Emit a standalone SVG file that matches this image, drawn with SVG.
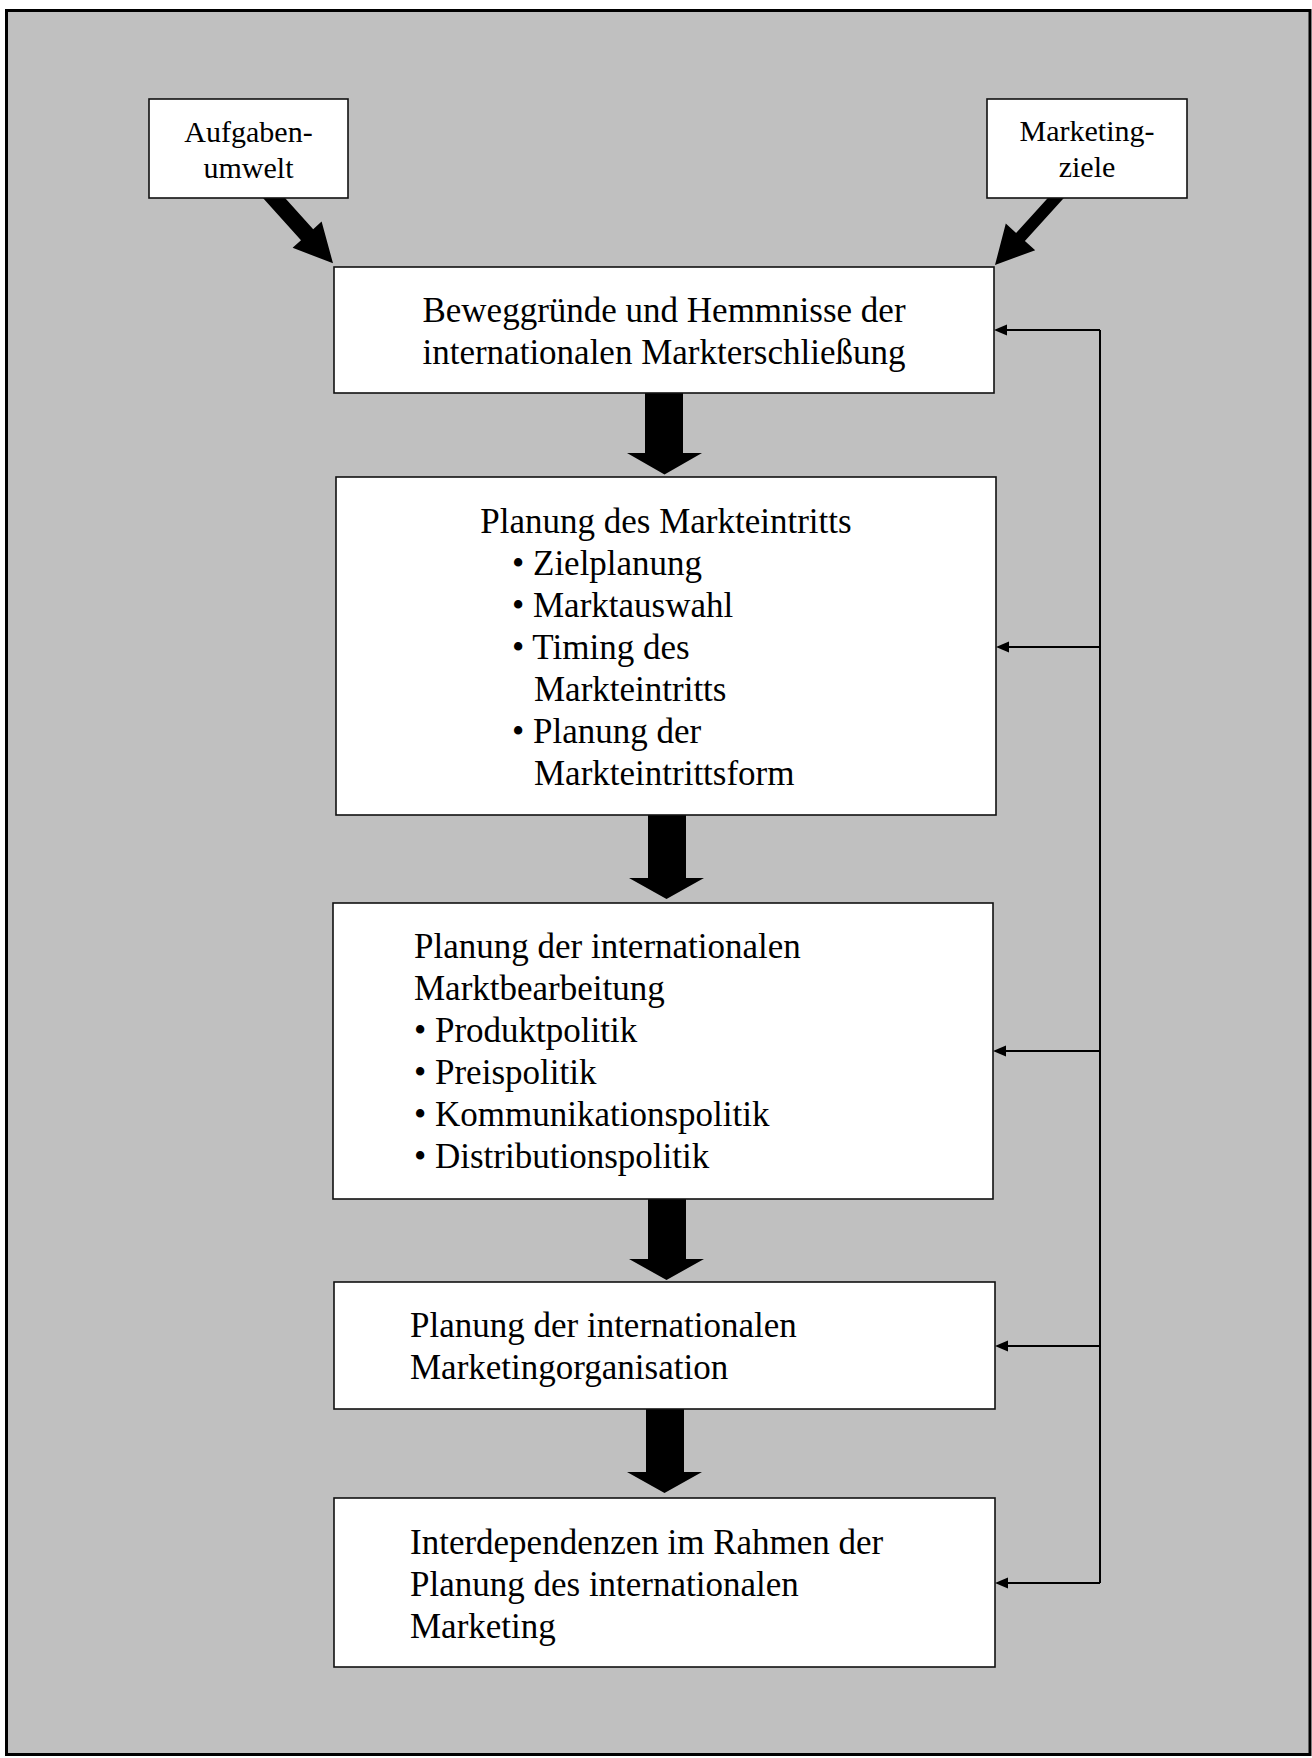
<svg xmlns="http://www.w3.org/2000/svg" width="1312" height="1758" viewBox="0 0 1312 1758">
  <defs>
    <style>
      .box { fill: #ffffff; stroke: #111111; stroke-width: 1.6; }
      .t { font-family: "Liberation Serif", "Times New Roman", serif; font-size: 35px; fill: #000000; }
      .ts { font-family: "Liberation Serif", "Times New Roman", serif; font-size: 30px; fill: #000000; text-anchor: middle; }
      .c { text-anchor: middle; }
      .fat { fill: #000000; stroke: none; }
      .fb { stroke: #000000; stroke-width: 2; fill: none; }
    </style>
    <marker id="ah" markerUnits="userSpaceOnUse" markerWidth="14" markerHeight="12" refX="7" refY="5.5" orient="auto">
      <path d="M0,0 L13,5.5 L0,11 Z" fill="#000000"/>
    </marker>
  </defs>

  <rect x="6.5" y="10.5" width="1303.5" height="1744" fill="#c0c0c0" stroke="#000000" stroke-width="3"/>

  <g id="connectors">
    <polygon class="fat" points="272.9,184.5 313.2,229.2 321.6,221.6 333,263.3 292.6,247.8 301,240.2 260.7,195.5"/>
    <polygon class="fat" points="1058.7,186 1016.1,232.9 1005.8,223.6 995,265 1035.2,250.2 1024.9,240.9 1067.5,194"/>
    <polygon class="fat" points="645,390 683,390 683,453 702,453 664.5,474.5 627,453 645,453"/>
    <polygon class="fat" points="648,812 686,812 686,878 704,878 666.5,899 629,878 648,878"/>
    <polygon class="fat" points="648,1196 686,1196 686,1259 704,1259 666.5,1280 629,1259 648,1259"/>
    <polygon class="fat" points="646,1406 684,1406 684,1472 702,1472 664.5,1493 627,1472 646,1472"/>
    <line class="fb" x1="1100" y1="330" x2="1100" y2="1583"/>
    <line class="fb" x1="1100" y1="330" x2="1000" y2="330" marker-end="url(#ah)"/>
    <line class="fb" x1="1100" y1="647" x2="1002" y2="647" marker-end="url(#ah)"/>
    <line class="fb" x1="1100" y1="1051" x2="999" y2="1051" marker-end="url(#ah)"/>
    <line class="fb" x1="1100" y1="1346" x2="1001" y2="1346" marker-end="url(#ah)"/>
    <line class="fb" x1="1100" y1="1583" x2="1001" y2="1583" marker-end="url(#ah)"/>
  </g>

  <g id="aufgabenumwelt">
    <rect class="box" x="149" y="99" width="199" height="99"/>
    <text class="ts" x="248.5" y="142">Aufgaben-</text>
    <text class="ts" x="248.5" y="178">umwelt</text>
  </g>

  <g id="marketingziele">
    <rect class="box" x="987" y="99" width="200" height="99"/>
    <text class="ts" x="1087" y="141">Marketing-</text>
    <text class="ts" x="1087" y="177">ziele</text>
  </g>

  <g id="beweggruende">
    <rect class="box" x="334" y="267" width="660" height="126"/>
    <text class="t c" x="664" y="322">Beweggründe und Hemmnisse der</text>
    <text class="t c" x="664" y="364">internationalen Markterschließung</text>
  </g>

  <g id="planung-markteintritt">
    <rect class="box" x="336" y="477" width="660" height="338"/>
    <text class="t c" x="666" y="533">Planung des Markteintritts</text>
    <text class="t" x="512" y="575">• Zielplanung</text>
    <text class="t" x="512" y="617">• Marktauswahl</text>
    <text class="t" x="512" y="659">• Timing des</text>
    <text class="t" x="534" y="701">Markteintritts</text>
    <text class="t" x="512" y="743">• Planung der</text>
    <text class="t" x="534" y="785">Markteintrittsform</text>
  </g>

  <g id="planung-marktbearbeitung">
    <rect class="box" x="333" y="903" width="660" height="296"/>
    <text class="t" x="414" y="958">Planung der internationalen</text>
    <text class="t" x="414" y="1000">Marktbearbeitung</text>
    <text class="t" x="414" y="1042">• Produktpolitik</text>
    <text class="t" x="414" y="1084">• Preispolitik</text>
    <text class="t" x="414" y="1126">• Kommunikationspolitik</text>
    <text class="t" x="414" y="1168">• Distributionspolitik</text>
  </g>

  <g id="planung-marketingorganisation">
    <rect class="box" x="334" y="1282" width="661" height="127"/>
    <text class="t" x="410" y="1337">Planung der internationalen</text>
    <text class="t" x="410" y="1379">Marketingorganisation</text>
  </g>

  <g id="interdependenzen">
    <rect class="box" x="334" y="1498" width="661" height="169"/>
    <text class="t" x="410" y="1554">Interdependenzen im Rahmen der</text>
    <text class="t" x="410" y="1596">Planung des internationalen</text>
    <text class="t" x="410" y="1638">Marketing</text>
  </g>
</svg>
